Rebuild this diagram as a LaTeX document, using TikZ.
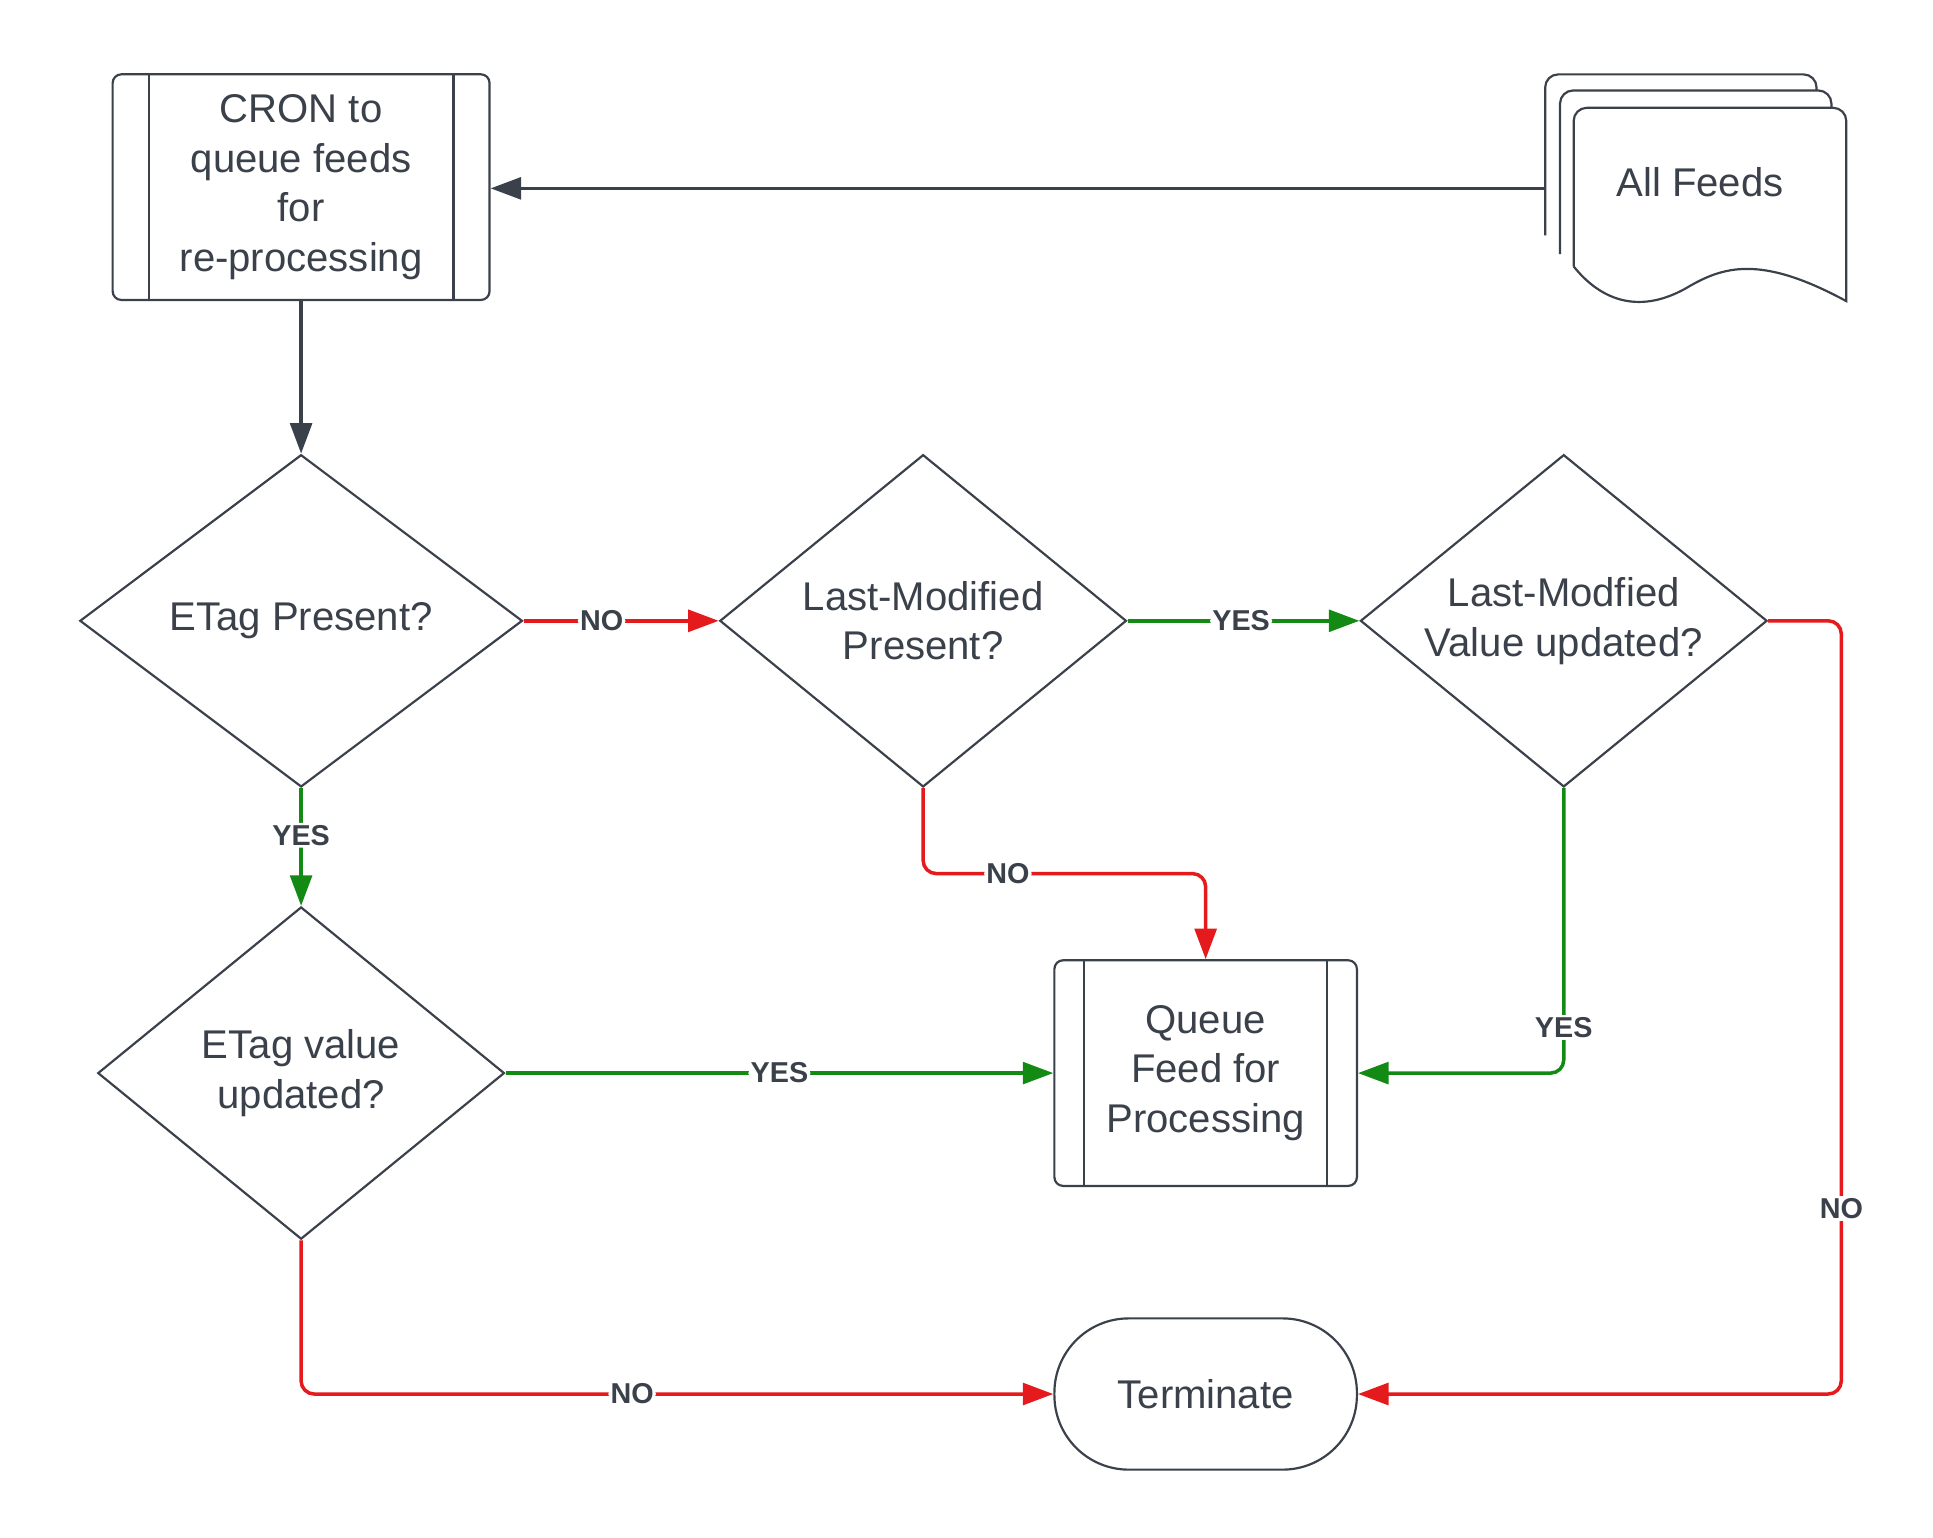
\documentclass[tikz,border=0pt]{standalone}
\usepackage{fontspec}
\setmainfont{Liberation Sans}
\usepackage{tikz}
\usetikzlibrary{shapes.geometric,arrows.meta,calc}
\definecolor{ink}{HTML}{3A414A}
\definecolor{nored}{HTML}{E41A1C}
\definecolor{yesgreen}{HTML}{138A13}
\tikzset{
  shape line/.style={draw=ink, line width=0.5pt, fill=white},
  txt/.style={text=ink, font=\fontsize{9.2}{11.4}\selectfont, align=center},
  decision/.style={shape line, diamond, inner sep=0pt, minimum width=3.28cm, minimum height=2.68cm},
  process/.style={shape line, txt, rectangle, rounded corners=2pt, minimum width=2.44cm, minimum height=1.82cm},
  flow/.style={-{Triangle[length=7pt,width=5pt]}, line width=0.8pt, draw=ink},
  no/.style={flow, draw=nored, rounded corners=3pt},
  yes/.style={flow, draw=yesgreen, rounded corners=3pt},
  lbl/.style={fill=white, inner sep=0.5pt, text=ink, font=\fontsize{6.6}{7}\selectfont\bfseries}
}
\begin{document}
\begin{tikzpicture}[x=0.01cm, y=-0.01cm]
  \useasboundingbox (0,0) rectangle (1560,1241);

  % CRON box
  \node[process, minimum width=3.04cm] (cron) at (243,151) {CRON to\\queue feeds\\for\\re-processing};
  \draw[ink, line width=0.5pt] ($(cron.north west)+(30,0)$) -- ($(cron.south west)+(30,0)$)
    ($(cron.north east)+(-30,0)$) -- ($(cron.south east)+(-30,0)$);

  % All Feeds (stacked documents)
  \draw[shape line, rounded corners=3pt] (1247,190) -- (1247,60) -- (1466,60) -- (1466,190);
  \draw[shape line, rounded corners=3pt] (1259,205) -- (1259,73) -- (1478,73) -- (1478,205);
  \draw[shape line] (1270,215) [rounded corners=3pt] -- (1270,87) -- (1490,87) [sharp corners] -- (1490,243)
    .. controls (1420,205) and (1390,215) .. (1360,233)
    .. controls (1320,255) and (1290,240) .. (1270,215);
  \node[txt] (feeds) at (1372,147) {All Feeds};
  \coordinate (feedsin) at (1247,152);

  % Decisions
  \node[decision, minimum width=3.57cm] (etag) at (243,501) {};
  \node[decision] (lastmod) at (745,501) {};
  \node[decision] (lmval) at (1262,501) {};
  \node[decision] (etagval) at (243,866) {};
  \node[txt] (etagtext) at (etag) {ETag Present?};
  \node[txt] (lastmodtext) at (lastmod) {Last-Modified\\Present?};
  \node[txt] (lmvaltext) at (lmval) {Last-Modfied\\Value updated?};
  \node[txt] (etagvaltext) at (etagval) {ETag value\\updated?};

  % Queue and Terminate
  \node[process] (queue) at (973,866) {Queue\\Feed for\\Processing};
  \draw[ink, line width=0.5pt] ($(queue.north west)+(25,0)$) -- ($(queue.south west)+(25,0)$)
    ($(queue.north east)+(-25,0)$) -- ($(queue.south east)+(-25,0)$);
  \node[shape line, txt, rectangle, rounded corners=0.6cm, minimum width=2.44cm, minimum height=1.22cm] (term) at (973,1125) {Terminate};

  % Connectors
  \draw[flow] (feedsin) -- (cron.east |- feedsin);
  \draw[flow] (cron.south) -- (etag.north);
  \draw[no] (etag.east) -- node[lbl, pos=0.4] {NO} (lastmod.west);
  \draw[yes] (lastmod.east) -- node[lbl, pos=0.49] {YES} (lmval.west);
  \draw[no] (lmval.east) -- (1486,501) -- node[lbl, pos=0.76] {NO} (1486,1125) -- (term.east);
  \draw[yes] (etag.south) -- node[lbl, pos=0.4] {YES} (etagval.north);
  \draw[no] (lastmod.south) |- node[lbl, pos=0.65] {NO} (973,705) -- (queue.north);
  \draw[yes] (lmval.south) |- node[lbl, pos=0.42] {YES} (queue.east);
  \draw[yes] (etagval.east) -- node[lbl, pos=0.5] {YES} (queue.west);
  \draw[no] (etagval.south) |- node[lbl, pos=0.72] {NO} (term.west);
\end{tikzpicture}
\end{document}
